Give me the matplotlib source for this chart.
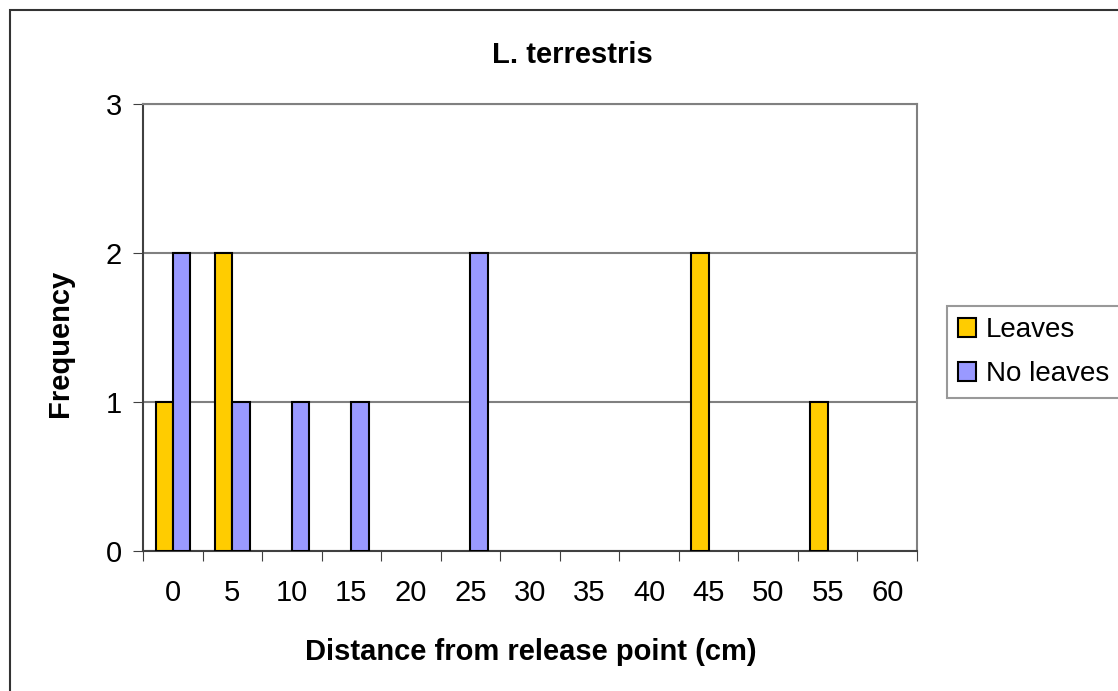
import numpy as np
import matplotlib
matplotlib.use('Agg')
import matplotlib.pyplot as plt
from matplotlib.patches import Rectangle

categories = ['0', '5', '10', '15', '20', '25', '30', '35', '40', '45', '50', '55', '60']
leaves = [1, 2, 0, 0, 0, 0, 0, 0, 0, 2, 0, 1, 0]
no_leaves = [2, 1, 1, 1, 0, 2, 0, 0, 0, 0, 0, 0, 0]
yticks = [0, 1, 2, 3]

plt.rcParams['font.family'] = ['Liberation Sans', 'DejaVu Sans']

W, H = 1118, 691
fig = plt.figure(figsize=(W / 100, H / 100), dpi=100)
ax = fig.add_axes([143 / W, 1 - 551 / H, 774 / W, 447 / H])

x = np.arange(len(categories))
w = 0.29
lv = np.array(leaves)
nl = np.array(no_leaves)

# Excel skips zero-height bars, so only draw the non-zero ones
ax.bar(x[lv > 0] - w / 2, lv[lv > 0], w, color='#FFCC00', edgecolor='black',
       linewidth=1.5, label='Leaves', zorder=3)
ax.bar(x[nl > 0] + w / 2, nl[nl > 0], w, color='#9999FF', edgecolor='black',
       linewidth=1.5, label='No leaves', zorder=3)

ax.set_xlim(-0.5, len(categories) - 0.5)
ax.set_ylim(0, 3)
ax.set_yticks(yticks)
ax.set_yticklabels([str(v) for v in yticks], fontsize=21)
ax.yaxis.grid(True, color='#808080', linewidth=1.5, zorder=0)

ax.set_xticks(np.arange(-0.5, len(categories), 1))
ax.set_xticklabels([])
ax.set_xticks(x, minor=True)
ax.set_xticklabels(categories, minor=True, fontsize=21)
ax.tick_params(axis='x', which='major', direction='out', length=7, color='#404040')
ax.tick_params(axis='x', which='minor', length=0, pad=20)
ax.tick_params(axis='y', direction='out', length=7, color='#404040', pad=8)

for side in ['top', 'right']:
    ax.spines[side].set_color('#808080')
    ax.spines[side].set_linewidth(1.5)
for side in ['left', 'bottom']:
    ax.spines[side].set_color('#404040')
    ax.spines[side].set_linewidth(1.5)

fig.text(572 / W, 1 - 55 / H, 'L. terrestris', fontsize=21, fontweight='bold',
         ha='center', va='center')
fig.text(531 / W, 1 - 652 / H, 'Distance from release point (cm)', fontsize=21,
         fontweight='bold', ha='center', va='center')
fig.text(60 / W, 1 - 343 / H, 'Frequency', fontsize=21, fontweight='bold',
         rotation=90, ha='center', va='center')

leg = ax.legend(loc='upper left', bbox_to_anchor=(947 / W, 1 - 306 / H),
                bbox_transform=fig.transFigure, fontsize=20, frameon=True,
                fancybox=False, edgecolor='#808080', handlelength=0.65,
                handleheight=0.65, handletextpad=0.35, borderpad=0.4,
                labelspacing=0.65, borderaxespad=0)
leg.get_frame().set_linewidth(1.5)

# outer chart border, runs off the right and bottom edges like the original
fig.add_artist(Rectangle((10 / W, -0.1), 1.2, 1 - 10 / H + 0.1, fill=False,
                         edgecolor='#333333', linewidth=1.5,
                         transform=fig.transFigure))

fig.savefig('out.png', dpi=100)
